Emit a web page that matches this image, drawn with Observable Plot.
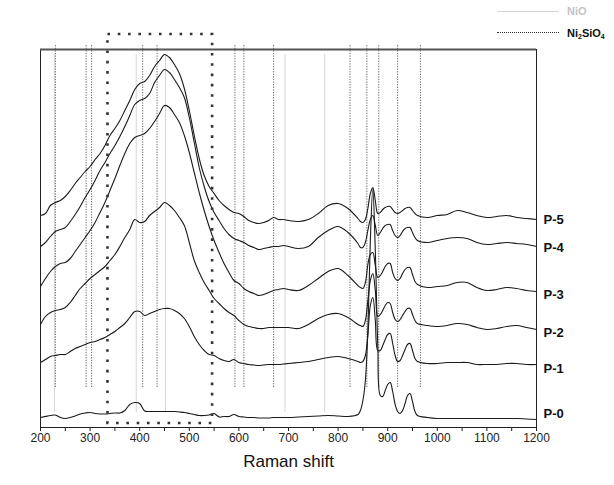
<!DOCTYPE html>
<html><head><meta charset="utf-8">
<script src="https://cdn.jsdelivr.net/npm/d3@7"></script>
<script src="https://cdn.jsdelivr.net/npm/@observablehq/plot@0.6"></script>
<style>
body{margin:0;background:#fff;font-family:"Liberation Sans",Arial,sans-serif;}
#wrap{position:relative;width:614px;height:485px;overflow:hidden;}
.leg{position:absolute;left:497px;width:62px;height:0;}
.legt{position:absolute;left:567px;font-size:11px;font-weight:bold;line-height:12px;white-space:nowrap;}
.legt sub{font-size:7px;vertical-align:-2px;line-height:0;}
</style></head><body>
<div id="wrap"><div id="chart"></div>
<div class="leg" style="top:11px;border-top:1px solid #d4d4d4"></div>
<div class="legt" style="top:5px;color:#c4c4c4">NiO</div>
<div class="leg" style="top:32px;border-top:1px dotted #333"></div>
<div class="legt" style="top:27px;color:#111">Ni<sub>2</sub>SiO<sub>4</sub></div>
</div>
<script>
const shift = [200,210,220,230,240,250,260,270,280,290,300,310,320,330,340,350,360,370,380,390,400,410,420,430,440,450,460,470,480,490,500,510,520,530,540,550,560,570,580,590,600,610,620,630,640,650,660,670,680,690,700,720,740,760,780,800,820,840,845,850,855,860,865,870,875,880,885,890,895,900,905,910,915,920,925,930,935,940,945,950,955,960,980,1000,1020,1040,1060,1080,1100,1120,1140,1160,1180,1200];

const p5 = [212,214,222,225,227,231,237,244,250,256,261,268,274,282,292,299,307,317,327,338,344,346,352,361,367,373,370,363,354,339,317,292,269,252,241,234,227,222,218,215,214,211,207,205,204,205,207,210,208,208,207,206,208,214,222,224,219,209,206,205,208,219,234,240,227,214,215,218,220,221,221,218,215,214,215,217,219,220,220,217,214,212,210,212,213,217,215,212,210,211,212,210,209,208];
const p4 = [181,185,191,196,198,200,206,213,221,230,238,247,257,265,274,282,291,301,312,323,327,329,334,345,352,358,355,348,340,330,310,285,260,241,226,215,207,199,193,189,187,185,182,180,178,179,180,181,181,182,181,179,181,190,197,201,195,184,180,180,185,197,208,212,202,192,195,199,202,203,203,197,192,190,192,196,199,200,200,195,190,187,185,187,189,190,189,185,183,184,185,184,183,181];
const p3 = [141,149,156,161,164,165,169,176,183,190,197,205,215,225,237,249,262,274,284,290,292,294,299,306,314,322,320,313,305,292,275,255,235,217,201,187,175,164,155,147,144,139,136,134,132,133,135,137,138,139,138,137,142,149,156,159,152,142,140,139,145,163,173,175,162,150,152,156,161,164,164,155,149,147,149,154,158,160,160,153,146,143,140,141,142,145,145,140,137,138,140,139,137,136];
const p2 = [103,111,115,117,118,120,125,132,139,144,149,153,157,161,167,173,181,190,198,208,205,206,212,216,220,225,222,217,210,202,185,167,155,145,137,129,124,119,115,112,107,103,101,100,99,99,100,100,100,100,100,99,103,109,113,114,110,103,102,101,107,127,147,154,137,111,113,117,122,125,124,115,108,106,108,112,116,119,119,113,107,104,102,101,102,104,103,100,98,99,101,102,100,98];
const p1 = [65,68,71,72,73,73,76,79,81,83,85,86,88,90,93,96,100,104,110,116,116,112,114,116,118,119,119,117,114,109,101,91,83,77,73,72,69,67,66,68,65,64,63,62.5,62,62.5,63,63,63,63.5,64,65,66,68,70,71,69,66,65,66,72,92,122,130,107,77,77,82,88,93,94,84,72,66,67,72,78,83,84,77,69,66,64,64,65,65,65,63,63,63,64,64,63,63];
const p0 = [10,11,12,12.5,10,9,10,11.5,13.5,14.5,15,14,13.5,13.5,14,14.5,14.5,17,23,25,24,16.5,16,16,16,16,16,16,15.5,15,14,13,12,12,12.5,14,10.5,11,11,13,11,10.5,10,10,9.5,9.5,9.5,10,10,10,10,10.5,11,11.5,12,11.5,11,13,17,27,47,97,187,239,177,82,32,31,37,43,45,36,23,16,14,17,24,32,34,26,16,12,10,9,9,9,9,9,9,9,9,9,8.5,8];

const sampleNames = ["P-0","P-1","P-2","P-3","P-4","P-5"];
const sampleLabelY = [14,59,95,133,180,208];
const nioLines = [228,393,452,693,773];
const ni2sio4Lines = [230,292,303,406,435,592,610,670,824,858,882,920,966];
const boxShift = [336,547];
const boxIntensity = [4,393];
const tickValues = d3.range(200,1201,50);

const series = [p0,p1,p2,p3,p4,p5];
const rows = series.flatMap((s,i)=>s.map((v,j)=>({name:sampleNames[i], x:shift[j], y:v})));
const labels = sampleNames.map((n,i)=>({name:n, y:sampleLabelY[i]}));

const chart = Plot.plot({
  width:614, height:485,
  marginLeft:40, marginRight:78, marginTop:49, marginBottom:58,
  x:{domain:[200,1200]},
  y:{domain:[0,378], axis:null},
  style:{fontFamily:'"Liberation Sans",Arial,sans-serif', fontSize:"12px", color:"#222", background:"white", overflow:"visible"},
  marks:[
    Plot.ruleX(nioLines,{y1:15,y2:373,stroke:"#d6d6d6",strokeWidth:1}),
    Plot.ruleX(ni2sio4Lines,{y1:40,y2:383,stroke:"#444",strokeWidth:0.8,strokeDasharray:"1.3,1.3"}),
    Plot.line(rows,{x:"x",y:"y",z:"name",stroke:"#1a1a1a",strokeWidth:1.1,curve:"catmull-rom"}),
    Plot.rect([0],{x1:boxShift[0],x2:boxShift[1],y1:boxIntensity[0],y2:boxIntensity[1],fill:"none",stroke:"#333",strokeWidth:2.6,strokeDasharray:"2.6,7.7"}),
    Plot.frame({stroke:"#222",strokeWidth:1}),
    Plot.ruleY([378],{stroke:"#555",strokeWidth:2}),
    Plot.axisX({ticks:tickValues, tickSize:4, tickPadding:2, tickFormat:d=>d%100?"":String(d), label:null, fontSize:12}),
    Plot.text(labels,{x:1200,y:"y",text:"name",dx:7,textAnchor:"start",fontWeight:"bold",fontSize:13,fill:"#111"}),
    Plot.text(["Raman shift"],{frameAnchor:"bottom",dy:39,fontSize:17,fill:"#111"})
  ]
});
document.getElementById("chart").appendChild(chart);
</script>
</body></html>
